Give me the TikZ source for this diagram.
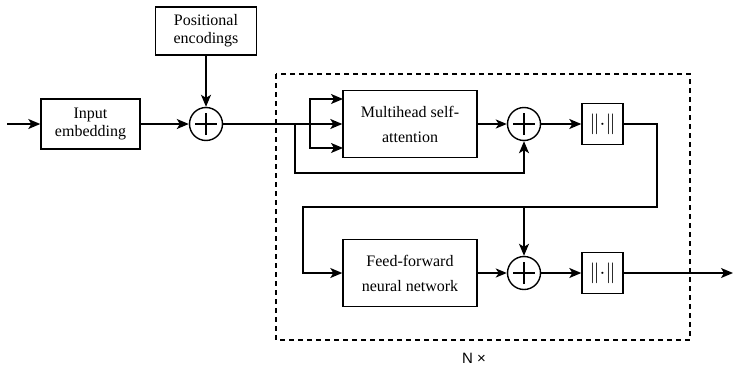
\documentclass[tikz,border=0pt]{standalone}
\usepackage{fontspec}
\setmainfont{Liberation Serif}
\newfontfamily\labelsans{Liberation Sans}
\usetikzlibrary{arrows.meta}
\begin{document}
\begin{tikzpicture}[x=1pt,y=-1pt,
  box/.style={draw,line width=1.4pt,align=center,inner sep=0pt},
  smalltext/.style={font=\fontsize{16}{18}\selectfont},
  bigtext/.style={font=\fontsize{16}{25}\selectfont},
  sum/.style={draw,circle,line width=1.4pt,minimum size=33pt,inner sep=0pt,
    path picture={\draw[line width=1.4pt]
      ([xshift=-11pt]path picture bounding box.center) -- ([xshift=11pt]path picture bounding box.center)
      ([yshift=-11pt]path picture bounding box.center) -- ([yshift=11pt]path picture bounding box.center);}},
  arr/.style={line width=1.4pt,-{Stealth[length=12pt,width=10pt,inset=3pt]}},
  thickarr/.style={line width=2.4pt,-{Stealth[length=11pt,width=9pt,inset=3pt]}},
  ln/.style={line width=1.4pt},
  normbox/.style={box,minimum width=41pt,minimum height=41pt,font=\fontsize{22}{24}\selectfont},
  frame/.style={line width=1.4pt,dash pattern=on 5pt off 4pt},
]
\useasboundingbox (0,0) rectangle (733,367);

% nodes
\node[box,smalltext,minimum width=99pt,minimum height=50pt] (emb) at (90.5,124) {Input\\embedding};
\node[box,smalltext,minimum width=101pt,minimum height=48pt] (pos) at (206,31) {Positional\\encodings};
\node[sum] (s1) at (206,124) {};
\node[box,bigtext,minimum width=134pt,minimum height=67pt] (mha) at (410,124) {Multihead self-\\attention};
\node[sum] (s2) at (524,124) {};
\node[normbox] (n1) at (602.5,124) {$\|{\cdot}\|$};
\node[box,bigtext,minimum width=134pt,minimum height=67pt] (ffn) at (410,273) {Feed-forward\\neural network};
\node[sum] (s3) at (524,273) {};
\node[normbox] (n2) at (602.5,273) {$\|{\cdot}\|$};

% frame and label
\draw[frame] (276,74) rectangle (690,340);
\node[font=\labelsans\fontsize{15}{18}\selectfont,inner sep=0pt] (nx) at (474,358) {N ×};

% coordinates
\coordinate (in) at (7,124);
\coordinate (b1) at (295,124);
\coordinate (b2) at (310,124);
\coordinate (k1) at (295,173);
\coordinate (m1) at (343,99);
\coordinate (m3) at (343,148);
\coordinate (c1) at (657,207);
\coordinate (c2) at (303,207);
\coordinate (c3) at (524,207);
\coordinate (out) at (733,273);

% connectors
\draw[arr] (in) -- (emb);
\draw[arr] (emb) -- (s1);
\draw[arr] (pos) -- (s1);
\draw[ln] (s1) -- (b2);
\draw[arr] (b2) |- (m1);
\draw[arr] (b2) -- (mha);
\draw[arr] (b2) |- (m3);
\draw[arr] (b1) -- (k1) -| (s2);
\draw[thickarr] (mha) -- (s2);
\draw[arr] (s2) -- (n1);
\draw[arr] (n1) -| (c1) -- (c2) |- (ffn);
\draw[arr] (c3) -- (s3);
\draw[thickarr] (ffn) -- (s3);
\draw[arr] (s3) -- (n2);
\draw[arr] (n2) -- (out);
\end{tikzpicture}
\end{document}
